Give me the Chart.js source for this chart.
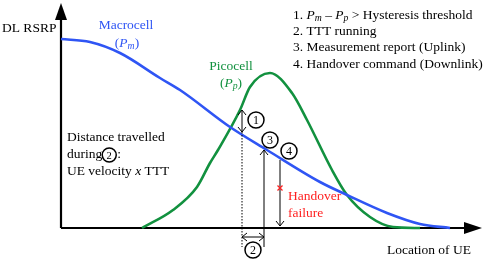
<!DOCTYPE html>
<html>
<head>
<meta charset="utf-8">
<script src="https://cdn.jsdelivr.net/npm/chart.js@4.4.0/dist/chart.umd.min.js"></script>
<style>
  body { margin: 0; background: #fff; }
  #wrap { width: 485px; height: 260px; }
</style>
</head>
<body>
<div id="wrap"><canvas id="chart" width="485" height="260"></canvas></div>
<script>
// Lokasi UE (sumbu datar) dan DL RSRP tiap sel
const macroLoc = [0, 29, 59, 99, 119, 169, 206, 259, 286, 326, 359, 389];
const macroRsrp = [189, 186, 175, 150, 138, 101, 78, 46, 33, 15, 4, 0];
const picoLoc = [81, 112, 136, 149, 157, 179, 189, 209, 231, 246, 271, 286, 309, 332, 359];
const picoRsrp = [0, 18, 41, 65, 78, 118, 141, 155, 135, 108, 58, 33, 11, 1, 0];

// titik kejadian: (1) selisih > hysteresis, (3) measurement report, (4) handover command
const markLoc = [181, 203, 219];
const markTop = [118, 78, 68];
const markBase = [96, -19, 2];
const failLoc = 219;
const failRsrp = 40;

const legendItems = [
    "1. |Pm| – |Pp| > Hysteresis threshold",
    "2. TTT running",
    "3. Measurement report (Uplink)",
    "4. Handover command (Downlink)",
];

const BLUE = "#2f55f4";
const GREEN = "#12913f";
const RED = "#ff1f1f";
const FONT = "Liberation Serif";

// tulis teks dengan potongan italic / subscript
function richText(ctx, x, y, parts, size, align) {
    let w = 0;
    for (const p of parts) {
        ctx.font = (p.italic ? "italic " : "") + (p.sub ? size * 0.72 : size) + "px " + FONT;
        w += ctx.measureText(p.t).width;
    }
    let cx = align === "center" ? x - w / 2 : x;
    for (const p of parts) {
        ctx.font = (p.italic ? "italic " : "") + (p.sub ? size * 0.72 : size) + "px " + FONT;
        ctx.fillText(p.t, cx, p.sub ? y + size * 0.28 : y);
        cx += ctx.measureText(p.t).width;
    }
}

function subP(letter) {
    return [{ t: "(" }, { t: "P", italic: true }, { t: letter, italic: true, sub: true }, { t: ")" }];
}

function circled(ctx, x, y, n, r) {
    ctx.beginPath();
    ctx.arc(x, y, r, 0, Math.PI * 2);
    ctx.lineWidth = 1.5;
    ctx.strokeStyle = "#000";
    ctx.stroke();
    ctx.fillStyle = "#000";
    ctx.font = (r * 1.5) + "px " + FONT;
    ctx.textAlign = "center";
    ctx.textBaseline = "middle";
    ctx.fillText(String(n), x, y + 1);
    ctx.textAlign = "left";
}

// mata panah terbuka (chevron)
function chevron(ctx, x, y, dx, dy) {
    const s = 5;
    ctx.beginPath();
    ctx.moveTo(x - dx * s - dy * s * 0.8, y - dy * s - dx * s * 0.8);
    ctx.lineTo(x, y);
    ctx.lineTo(x - dx * s + dy * s * 0.8, y - dy * s + dx * s * 0.8);
    ctx.stroke();
}

const axesPlugin = {
    id: "axes",
    beforeDatasetsDraw(chart) {
        const ctx = chart.ctx;
        const sx = chart.scales.x;
        const sy = chart.scales.y;
        const x0 = sx.getPixelForValue(0);
        const y0 = sy.getPixelForValue(0);
        ctx.save();
        ctx.strokeStyle = "#000";
        ctx.fillStyle = "#000";
        ctx.lineWidth = 2.2;
        ctx.beginPath();
        ctx.moveTo(x0, y0);
        ctx.lineTo(x0, 16);
        ctx.moveTo(x0, y0);
        ctx.lineTo(468, y0);
        ctx.stroke();
        // panah sumbu
        ctx.beginPath();
        ctx.moveTo(x0, 3);
        ctx.lineTo(x0 - 6, 20);
        ctx.lineTo(x0 + 6, 20);
        ctx.closePath();
        ctx.fill();
        ctx.beginPath();
        ctx.moveTo(482, y0);
        ctx.lineTo(464, y0 - 6);
        ctx.lineTo(464, y0 + 6);
        ctx.closePath();
        ctx.fill();
        ctx.restore();
    },
    afterDatasetsDraw(chart) {
        const ctx = chart.ctx;
        const sx = chart.scales.x;
        const sy = chart.scales.y;
        const px = markLoc.map((v) => sx.getPixelForValue(v));
        const top = markTop.map((v) => sy.getPixelForValue(v));
        const base = markBase.map((v) => sy.getPixelForValue(v));
        const low = sy.getPixelForValue(-19);
        ctx.save();
        ctx.strokeStyle = "#000";
        ctx.lineWidth = 1;

        // (1) panah dua arah antara picocell dan macrocell
        ctx.beginPath();
        ctx.moveTo(px[0], top[0]);
        ctx.lineTo(px[0], base[0]);
        ctx.stroke();
        chevron(ctx, px[0], top[0], 0, -1);
        chevron(ctx, px[0], base[0], 0, 1);
        ctx.setLineDash([1.5, 1.5]);
        ctx.beginPath();
        ctx.moveTo(px[0], base[0]);
        ctx.lineTo(px[0], low);
        ctx.stroke();
        ctx.setLineDash([]);

        // (3) measurement report
        ctx.beginPath();
        ctx.moveTo(px[1], top[1]);
        ctx.lineTo(px[1], base[1]);
        ctx.stroke();
        chevron(ctx, px[1], top[1], 0, -1);

        // (4) handover command
        ctx.beginPath();
        ctx.moveTo(px[2], top[2]);
        ctx.lineTo(px[2], base[2]);
        ctx.stroke();
        chevron(ctx, px[2], base[2], 0, 1);

        // (2) durasi TTT
        const yb = sy.getPixelForValue(-9);
        ctx.beginPath();
        ctx.moveTo(px[0], yb);
        ctx.lineTo(px[1], yb);
        ctx.stroke();
        chevron(ctx, px[0], yb, -1, 0);
        chevron(ctx, px[1], yb, 1, 0);

        // tanda x merah: handover gagal
        const fx = sx.getPixelForValue(failLoc);
        const fy = sy.getPixelForValue(failRsrp);
        ctx.strokeStyle = RED;
        ctx.lineWidth = 1.3;
        ctx.beginPath();
        ctx.moveTo(fx - 2.5, fy - 2.5);
        ctx.lineTo(fx + 2.5, fy + 2.5);
        ctx.moveTo(fx + 2.5, fy - 2.5);
        ctx.lineTo(fx - 2.5, fy + 2.5);
        ctx.stroke();

        circled(ctx, px[0] + 14, top[0] + 10, 1, 8);
        circled(ctx, px[1] + 6, top[1] - 10, 3, 8);
        circled(ctx, px[2] + 9, top[2] - 9, 4, 8);
        circled(ctx, (px[0] + px[1]) / 2, 250, 2, 8);

        // teks
        const fs = 13.5;
        ctx.textBaseline = "middle";
        ctx.textAlign = "left";
        ctx.fillStyle = "#000";
        ctx.font = fs + "px " + FONT;
        ctx.fillText("DL RSRP", 2, 28);
        ctx.fillText("Location of UE", 387, 250);
        ctx.fillText("Distance travelled", 67, 137);
        ctx.fillText("during", 67, 154);
        const dw = ctx.measureText("during").width;
        circled(ctx, 67 + dw + 7, 155, 2, 7);
        ctx.font = fs + "px " + FONT;
        ctx.fillText(":", 67 + dw + 15, 154);
        richText(ctx, 67, 171, [{ t: "UE velocity " }, { t: "x", italic: true }, { t: " TTT" }], fs);

        legendItems.forEach((s, i) => {
            const parts = s.split("|").map((t, j) => {
                if (j % 2 === 0) {
                    return { t };
                }
                return [{ t: t[0], italic: true }, { t: t.slice(1), italic: true, sub: true }];
            }).flat();
            richText(ctx, 293, 15 + i * 16.4, parts, fs);
        });

        ctx.fillStyle = BLUE;
        richText(ctx, 126, 25, [{ t: "Macrocell" }], fs, "center");
        richText(ctx, 127, 43, subP("m"), fs, "center");
        ctx.fillStyle = GREEN;
        richText(ctx, 231, 66, [{ t: "Picocell" }], fs, "center");
        richText(ctx, 231, 83, subP("p"), fs, "center");
        ctx.fillStyle = RED;
        ctx.font = fs + "px " + FONT;
        ctx.fillText("Handover", 288, 196);
        ctx.fillText("failure", 288, 213);
        ctx.restore();
    },
};

new Chart(document.getElementById("chart"), {
    type: "line",
    data: {
        datasets: [
            {
                label: "Macrocell (Pm)",
                data: macroLoc.map((x, i) => ({ x, y: macroRsrp[i] })),
                borderColor: BLUE,
                borderWidth: 2.6,
                pointRadius: 0,
                cubicInterpolationMode: "monotone",
            },
            {
                label: "Picocell (Pp)",
                data: picoLoc.map((x, i) => ({ x, y: picoRsrp[i] })),
                borderColor: GREEN,
                borderWidth: 2.6,
                pointRadius: 0,
                cubicInterpolationMode: "monotone",
            },
        ],
    },
    options: {
        responsive: false,
        animation: false,
        events: [],
        layout: { padding: 0 },
        plugins: { legend: { display: false }, tooltip: { enabled: false } },
        scales: {
            x: { type: "linear", min: -61, max: 424, display: false },
            y: { type: "linear", min: -32, max: 228, display: false },
        },
    },
    plugins: [axesPlugin],
});
</script>
</body>
</html>
